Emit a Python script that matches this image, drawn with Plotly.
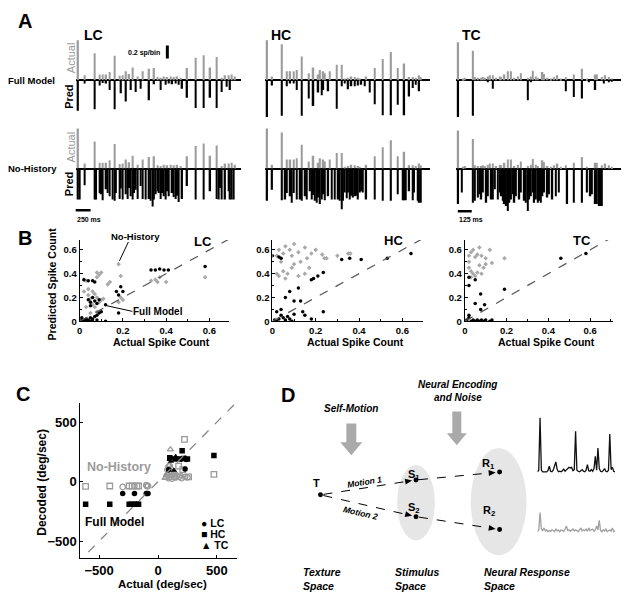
import math
import plotly.graph_objects as go

W, H = 626, 600
FONT = "Arial, Liberation Sans, sans-serif"
GRAY = "#9b9b9b"

# ---------------- Panel A data (sp/bin per time bin) ----------------
lc_act_bins = [0,4,10,13,15,17,19,22,25,27,29,31,33,36,39,43,46,48,50,52,54,56,58,60,62,66,71,76,80,84,87,89,91,93,95]
lc_act = [0.62,0.08,0.42,0.09,0.09,0.09,0.13,0.38,0.07,0.08,0.14,0.10,0.20,0.06,0.14,0.18,0.19,0.05,0.04,0.06,
          0.05,0.06,0.05,0.06,0.04,0.19,0.35,0.39,0.20,0.36,0.04,0.08,0.08,0.09,0.06]
lc_full_bins = [0,4,10,13,15,17,19,22,26,29,32,35,38,43,46,50,53,55,57,59,61,63,66,71,76,80,84,87,90,92]
lc_full = [0.47,0.05,0.45,0.08,0.04,0.05,0.15,0.45,0.20,0.33,0.15,0.18,0.13,0.31,0.06,0.15,0.07,0.05,0.06,0.05,
           0.07,0.13,0.27,0.43,0.43,0.27,0.43,0.18,0.10,0.15]
lc_nh_bins = [0,1,4,10,11,13,14,15,17,18,19,21,22,23,25,26,27,29,30,31,32,33,34,35,36,38,39,41,43,44,
              45,46,47,48,49,50,51,52,53,54,55,57,58,59,60,61,63,66,71,76,80,84,85,86,87,89,91,92,93,94]
lc_nh = [0.48,0.48,0.26,0.48,0.48,0.38,0.40,0.49,0.32,0.38,0.43,0.48,0.50,0.38,0.47,0.31,0.48,0.40,0.47,0.30,
         0.43,0.48,0.38,0.33,0.47,0.27,0.47,0.48,0.47,0.50,0.59,0.48,0.40,0.35,0.38,0.47,0.38,0.43,0.48,0.35,
         0.43,0.38,0.44,0.47,0.42,0.52,0.47,0.27,0.48,0.48,0.35,0.47,0.48,0.30,0.48,0.48,0.35,0.48,0.48,0.48]

hc_act_bins = [0,3,9,12,14,16,18,21,25,28,31,32,34,35,38,42,45,47,49,51,53,55,56,60,65,70,75,79,83,86,88,90,92,93]
hc_act = [0.62,0.06,0.56,0.14,0.14,0.14,0.16,0.37,0.11,0.20,0.09,0.16,0.14,0.11,0.14,0.24,0.24,0.03,0.04,0.06,
          0.05,0.04,0.03,0.06,0.19,0.33,0.44,0.19,0.26,0.05,0.05,0.04,0.08,0.05]
hc_full_bins = [0,3,9,12,14,16,18,21,25,28,31,33,34,37,42,45,47,49,51,53,55,57,59,62,65,70,75,79,83,86,88,90,92]
hc_full = [0.59,0.08,0.55,0.09,0.05,0.05,0.15,0.55,0.28,0.40,0.19,0.23,0.15,0.17,0.44,0.09,0.05,0.14,0.09,0.09,
           0.08,0.07,0.09,0.19,0.37,0.54,0.54,0.38,0.54,0.25,0.12,0.07,0.17]
hc_nh_bins = [0,3,9,11,12,14,15,16,18,20,21,23,24,26,27,28,29,30,31,32,33,34,35,37,39,41,43,44,45,46,
              47,48,49,50,51,52,53,54,55,56,57,58,60,65,70,75,79,82,83,84,86,88,89,91,92,93]
hc_nh = [0.50,0.33,0.49,0.48,0.38,0.43,0.53,0.38,0.48,0.48,0.50,0.43,0.48,0.35,0.48,0.41,0.50,0.53,0.45,0.55,
         0.48,0.40,0.49,0.43,0.48,0.48,0.48,0.50,0.63,0.50,0.37,0.46,0.37,0.48,0.42,0.45,0.43,0.42,0.48,0.37,
         0.35,0.37,0.48,0.48,0.50,0.50,0.40,0.49,0.49,0.49,0.35,0.49,0.37,0.50,0.53,0.53]

tc_act_bins = [0,3,4,9,10,12,14,15,16,18,19,21,23,25,26,28,30,32,34,36,38,42,44,45,47,48,51,52,54,56,
               58,60,62,65,70,75,78,83,84,87,89,91,93]
tc_act = [0.59,0.03,0.04,0.46,0.05,0.04,0.04,0.05,0.04,0.06,0.08,0.08,0.04,0.06,0.05,0.09,0.14,0.14,0.04,0.06,
          0.11,0.04,0.06,0.15,0.06,0.04,0.13,0.10,0.04,0.03,0.05,0.08,0.03,0.05,0.09,0.18,0.03,0.09,0.09,0.05,
          0.08,0.05,0.03]
tc_full_bins = [0,9,18,21,42,44,65,70,75,79,83,88,91,93]
tc_full = [0.58,0.55,0.03,0.13,0.31,0.03,0.17,0.26,0.28,0.03,0.15,0.05,0.03,0.02]
tc_nh_bins = [0,2,9,10,12,13,14,15,17,18,20,21,22,24,25,26,27,28,29,30,31,32,33,34,35,37,38,40,41,42,
              43,44,45,46,47,48,49,50,51,52,54,55,57,59,61,66,70,75,78,80,81,83,84,85,86,87]
tc_nh = [0.55,0.37,0.53,0.50,0.45,0.40,0.48,0.37,0.53,0.43,0.48,0.48,0.32,0.48,0.37,0.43,0.50,0.55,0.58,0.66,
         0.53,0.48,0.40,0.53,0.43,0.48,0.37,0.50,0.53,0.66,0.48,0.43,0.37,0.53,0.48,0.53,0.50,0.53,0.43,0.37,
         0.45,0.40,0.48,0.43,0.37,0.55,0.53,0.53,0.37,0.43,0.40,0.55,0.55,0.58,0.58,0.58]

# ---------------- Panel B data (actual vs predicted spike count) ----------------
b_lc_full_x = [0.01,0.02,0.03,0.04,0.05,0.06,0.07,0.08,0.09,0.10,0.03,0.05,0.12,0.02,0.04,0.06,0.07,
               0.04,0.05,0.06,0.07,0.05,0.08,0.09,0.18,0.18,0.20,0.19,0.17,0.33,0.35,0.37,0.39,0.41,
               0.58,0.12,0.01,0.02,0.06,0.08]
b_lc_full_y = [0.01,0.01,0.02,0.01,0.03,0.02,0.04,0.05,0.07,0.08,0.00,0.00,0.00,0.35,0.34,0.34,0.33,
               0.18,0.16,0.20,0.17,0.13,0.15,0.18,0.07,0.22,0.25,0.29,0.25,0.43,0.43,0.44,0.43,0.43,
               0.46,0.14,0.03,0.00,0.00,0.01]
b_lc_nh_x = [0.18,0.19,0.08,0.09,0.10,0.08,0.13,0.14,0.02,0.03,0.04,0.06,0.07,0.05,0.08,0.09,0.06,0.03,0.10,
             0.18,0.20,0.19,0.33,0.35,0.37,0.36,0.40,0.58,0.05,0.08,0.02,0.04,0.07,0.11]
b_lc_nh_y = [0.48,0.38,0.41,0.39,0.41,0.37,0.31,0.33,0.35,0.34,0.22,0.25,0.23,0.19,0.20,0.16,0.14,0.12,0.18,
             0.16,0.18,0.20,0.34,0.35,0.37,0.33,0.33,0.37,0.07,0.08,0.25,0.27,0.12,0.19]
b_hc_full_x = [0.00,0.03,0.04,0.18,0.19,0.21,0.235,0.235,0.32,0.357,0.41,0.53,0.64,
               0.01,0.02,0.03,0.04,0.05,0.06,0.07,0.08,0.09,0.10,0.02,0.04,0.06,
               0.06,0.08,0.12,0.10,0.13,0.15,0.18,0.14]
b_hc_full_y = [0.55,0.54,0.53,0.35,0.36,0.38,0.41,0.08,0.52,0.53,0.52,0.53,0.57,
               0.01,0.00,0.02,0.05,0.03,0.01,0.04,0.02,0.00,0.06,0.08,0.10,0.00,
               0.20,0.25,0.28,0.17,0.17,0.05,0.02,0.08]
b_hc_nh_x = [0.02,0.03,0.05,0.06,0.08,0.10,0.12,0.15,0.20,0.23,0.30,0.35,0.24,0.04,0.09,0.10,0.13,
             0.02,0.03,0.05,0.06,0.07,0.09,0.12,0.15,0.17,0.16,0.18,0.25,0.36]
b_hc_nh_y = [0.55,0.60,0.57,0.63,0.60,0.65,0.58,0.62,0.60,0.56,0.55,0.57,0.53,0.50,0.55,0.48,0.50,
             0.40,0.38,0.42,0.36,0.40,0.45,0.38,0.40,0.45,0.53,0.57,0.53,0.57]
b_tc_full_x = [0.02,0.02,0.05,0.076,0.05,0.095,0.076,0.19,0.46,0.58,0.01,0.02,0.03,0.04,0.05,0.06,0.07,
               0.08,0.09,0.10,0.12,0.13,0.02]
b_tc_full_y = [0.37,0.30,0.35,0.23,0.15,0.14,0.10,0.27,0.53,0.57,0.01,0.03,0.00,0.01,0.00,0.01,0.00,
               0.01,0.00,0.01,0.00,0.01,0.05]
b_tc_nh_x = [0.02,0.03,0.05,0.06,0.08,0.10,0.04,0.07,0.12,0.19,0.13,0.02,0.03,0.04,0.05,0.06,0.08,0.03,
             0.02,0.07,0.09,0.10]
b_tc_nh_y = [0.55,0.58,0.54,0.56,0.55,0.53,0.60,0.62,0.60,0.53,0.49,0.45,0.42,0.40,0.38,0.41,0.40,0.37,
             0.50,0.47,0.45,0.48]
b_ticks = [0, 0.2, 0.4, 0.6]
b_tick_labels = ["0", "0.2", "0.4", "0.6"]

# ---------------- Panel C data (deg/sec) ----------------
c_full_lc_x = [-300,-200,-100,-85,-95,230,90,200,240]
c_full_lc_y = [-100,-100,-100,-100,-100,105,100,190,185]
c_full_hc_x = [-615,-410,-245,-225,-200,-180,-165,205,150,180,220,250,475,100]
c_full_hc_y = [-190,-190,-190,-190,-190,-190,-190,260,190,190,195,190,220,200]
c_full_tc_x = [100,120,110,135,230,150]
c_full_tc_y = [185,195,170,95,200,210]
c_nh_lc_x = [-300,-200,-95,-85,-100,100,80,110,70,90,120,150,180,200,230,250,130,160]
c_nh_lc_y = [-45,-37,-37,-37,-30,130,100,80,40,30,25,35,40,30,40,35,60,50]
c_nh_hc_x = [-615,-410,-245,-220,-180,-165,225,175,475,210,100,260,140]
c_nh_hc_y = [-40,-37,-37,-37,-37,-37,355,130,60,100,60,40,40]
c_nh_tc_x = [105,90,115,80,140,100,200,60]
c_nh_tc_y = [270,140,110,70,80,30,50,30]
c_ticks = [-500, 0, 500]
c_legend = ["LC", "HC", "TC"]

# ---------------- Panel D example responses ----------------
d_resp1 = [0.02,0.05,1.0,0.05,0.02,0.02,0.03,0.02,0.04,0.12,0.03,0.02,0.05,0.12,0.2,0.06,0.02,0.03,0.02,0.04,
           0.07,0.03,0.05,0.08,0.1,0.09,0.1,0.04,0.06,0.75,0.05,0.03,0.02,0.04,0.06,0.03,0.02,0.05,0.15,0.04,
           0.03,0.06,0.03,0.08,0.3,0.05,0.45,0.08,0.03,0.02,0.04,0.08,0.03,0.02,0.05,0.7,0.06,0.1,0.03,0.02]
d_resp2 = [0.05,0.1,0.55,0.12,0.08,0.15,0.07,0.1,0.05,0.08,0.06,0.1,0.08,0.05,0.12,0.07,0.09,0.05,0.1,0.08,
           0.06,0.12,0.2,0.08,0.1,0.06,0.09,0.12,0.07,0.1,0.08,0.05,0.1,0.15,0.07,0.1,0.08,0.12,0.06,0.15,
           0.08,0.1,0.12,0.06,0.1,0.2,0.1,0.35,0.08,0.05,0.1,0.07,0.12,0.05,0.08,0.1,0.06,0.15,0.05,0.08]

# ---------------- helpers ----------------
def xd(a, b):
    return [a / W, b / W]

def yd(top, bot):
    return [1 - bot / H, 1 - top / H]

def P(x, y):
    return x / W, 1 - y / H

layout = dict(width=W, height=H, margin=dict(l=0, r=0, t=0, b=0, pad=0), paper_bgcolor="white",
              plot_bgcolor="white", showlegend=False, barmode="overlay",
              font=dict(family=FONT, color="black"))
shapes, annotations = [], []

def names(n):
    return ("x" if n == 1 else f"x{n}"), ("y" if n == 1 else f"y{n}")

def set_axes(n, xdom, ydom, xr, yr, xopts=None, yopts=None):
    xa, ya = names(n)
    base = dict(showgrid=False, zeroline=False, showticklabels=False, ticks="", showline=False, fixedrange=True)
    layout["xaxis" if n == 1 else f"xaxis{n}"] = dict(base, domain=xdom, range=xr, anchor=ya, **(xopts or {}))
    layout["yaxis" if n == 1 else f"yaxis{n}"] = dict(base, domain=ydom, range=yr, anchor=xa, **(yopts or {}))

def ann(x, y, text, size, color="black", angle=0, xanchor="center", yanchor="middle", align="center"):
    xp, yp = P(x, y)
    annotations.append(dict(x=xp, y=yp, xref="paper", yref="paper", text=text, showarrow=False,
                            font=dict(size=size, color=color, family=FONT), textangle=angle,
                            xanchor=xanchor, yanchor=yanchor, align=align, borderpad=0))

def pline(x0, y0, x1, y1, color="black", width=1, dash=None):
    shapes.append(dict(type="line", xref="paper", yref="paper", x0=x0 / W, y0=1 - y0 / H, x1=x1 / W,
                       y1=1 - y1 / H, line=dict(color=color, width=width, dash=dash)))

def ppath(pts, color):
    path = "M " + " L ".join(f"{x / W:.5f},{1 - y / H:.5f}" for x, y in pts) + " Z"
    shapes.append(dict(type="path", xref="paper", yref="paper", path=path, fillcolor=color,
                       line=dict(width=0)))

fig = go.Figure()

# ---------------- Panel A ----------------
cols = [((73, 239), lc_act_bins, lc_act, lc_full_bins, lc_full, lc_nh_bins, lc_nh),
        ((263, 429), hc_act_bins, hc_act, hc_full_bins, hc_full, hc_nh_bins, hc_nh),
        ((455, 621), tc_act_bins, tc_act, tc_full_bins, tc_full, tc_nh_bins, tc_nh)]
rows = [((36, 118), [-0.569, 0.692]), ((126, 214), [-0.677, 0.677])]
n = 1
for (xpx, ab, av, fb, fv, hb, hv) in cols:
    for r, (ypx, yr) in enumerate(rows):
        set_axes(n, xd(*xpx), yd(*ypx), [-1.5, 98.5], yr,
                 yopts=dict(zeroline=True, zerolinecolor="black", zerolinewidth=1.5))
        xa, ya = names(n)
        fig.add_trace(go.Bar(x=ab, y=av, width=0.9, marker=dict(color=GRAY, line=dict(width=0)),
                             xaxis=xa, yaxis=ya))
        pb, pv = (fb, fv) if r == 0 else (hb, hv)
        fig.add_trace(go.Bar(x=pb, y=[-v for v in pv], width=0.9, marker=dict(color="black", line=dict(width=0)),
                             xaxis=xa, yaxis=ya))
        if n == 1:
            shapes.append(dict(type="line", xref="x", yref="y", x0=54, x1=54, y0=0.34, y1=0.54,
                               line=dict(color="black", width=3)))
        n += 1

ann(22, 21, "<b>A</b>", 20)
ann(91, 35, "<b>LC</b>", 14)
ann(279, 35, "<b>HC</b>", 14)
ann(471, 35, "<b>TC</b>", 14)
ann(142, 53, "<b>0.2 sp/bin</b>", 7)
ann(29, 81, "<b>Full Model</b>", 9.5)
ann(30, 170, "<b>No-History</b>", 9.5)
for yc in (58, 148):
    ann(68, yc, "Actual", 11, color=GRAY, angle=-90)
for yc in (98, 186):
    ann(67, yc, "<b>Pred</b>", 11, angle=-90)
pline(73, 212, 88, 212, width=2.5)
ann(73, 221, "<b>250 ms</b>", 7, xanchor="left")
pline(457, 213, 471, 213, width=2.5)
ann(457, 221, "<b>125 ms</b>", 7, xanchor="left")

# ---------------- Panel B ----------------
bax = dict(showline=True, linecolor="black", linewidth=1, ticks="inside", ticklen=3, tickcolor="black",
           showticklabels=True, tickvals=b_ticks, ticktext=b_tick_labels,
           minor=dict(dtick=0.1, tick0=0, ticks="inside", ticklen=2, tickcolor="black"),
           tickfont=dict(size=9.5, family=FONT, weight="bold"))
bpanels = [((77, 227), [0, 0.69], b_lc_full_x, b_lc_full_y, b_lc_nh_x, b_lc_nh_y),
           ((270.7, 421.7), [0, 0.694], b_hc_full_x, b_hc_full_y, b_hc_nh_x, b_hc_nh_y),
           ((464, 613), [0, 0.71], b_tc_full_x, b_tc_full_y, b_tc_nh_x, b_tc_nh_y)]
for (xpx, xr, fx, fy, hx, hy) in bpanels:
    set_axes(n, xd(*xpx), yd(242, 324), xr, [0, 0.683], xopts=dict(bax), yopts=dict(bax))
    xa, ya = names(n)
    shapes.append(dict(type="line", xref=xa, yref=ya, x0=0, y0=0, x1=0.75, y1=0.75,
                       line=dict(color="#555555", width=1.2, dash="dash")))
    fig.add_trace(go.Scatter(x=hx, y=hy, mode="markers", xaxis=xa, yaxis=ya,
                             marker=dict(symbol="diamond", size=3.5, color="#a8a8a8", line=dict(width=0))))
    fig.add_trace(go.Scatter(x=fx, y=fy, mode="markers", xaxis=xa, yaxis=ya,
                             marker=dict(symbol="circle", size=3.5, color="black", line=dict(width=0))))
    n += 1

ann(22, 240, "<b>B</b>", 20)
ann(133, 238, "<b>No-History</b>", 9.5)
pline(126, 244, 117, 263, width=1)
ann(201, 244, "<b>LC</b>", 13)
ann(392, 243, "<b>HC</b>", 13)
ann(582, 243, "<b>TC</b>", 13)
ann(156, 314, "<b>Full Model</b>", 10)
pline(103, 308, 130, 314, width=1)
ann(159, 345, "<b>Actual Spike Count</b>", 10.5)
ann(354, 345, "<b>Actual Spike Count</b>", 10.5)
ann(546, 345, "<b>Actual Spike Count</b>", 10.5)
ann(49, 286, "<b>Predicted Spike Count</b>", 10.5, angle=-90)

# ---------------- Panel C ----------------
cax = dict(showline=True, linecolor="black", linewidth=1, ticks="inside", ticklen=3, tickcolor="black",
           showticklabels=True, tickvals=c_ticks, tickfont=dict(size=13, family=FONT, weight="bold"))
set_axes(n, xd(77.7, 235), yd(406.7, 562.7), [-660, 670], [-642, 658], xopts=dict(cax), yopts=dict(cax))
xa, ya = names(n)
shapes.append(dict(type="line", xref=xa, yref=ya, x0=-700, y0=-700, x1=700, y1=700,
                   line=dict(color="#888888", width=1.3, dash="dash")))
for (xs, ys, sym) in [(c_nh_lc_x, c_nh_lc_y, "circle-open"), (c_nh_hc_x, c_nh_hc_y, "square-open"),
                      (c_nh_tc_x, c_nh_tc_y, "triangle-up-open")]:
    fig.add_trace(go.Scatter(x=xs, y=ys, mode="markers", xaxis=xa, yaxis=ya,
                             marker=dict(symbol=sym, size=5.5, color=GRAY, line=dict(width=1.3, color=GRAY))))
for (xs, ys, sym) in [(c_full_lc_x, c_full_lc_y, "circle"), (c_full_hc_x, c_full_hc_y, "square"),
                      (c_full_tc_x, c_full_tc_y, "triangle-up")]:
    fig.add_trace(go.Scatter(x=xs, y=ys, mode="markers", xaxis=xa, yaxis=ya,
                             marker=dict(symbol=sym, size=5.5, color="black", line=dict(width=0))))
n += 1

ann(20, 397, "<b>C</b>", 20)
ann(117, 471, "<b>No-History</b>", 12.5, color=GRAY)
ann(112, 526, "<b>Full Model</b>", 12)
for lab, sym, yc in zip(c_legend, ["●", "■", "▲"], (527, 538.5, 550)):
    ann(198, yc, f"<b>{sym} {lab}</b>", 10.5, xanchor="left")
ann(39, 486, "<b>Decoded (deg/sec)</b>", 12, angle=-90)
ann(160, 589, "<b>Actual (deg/sec)</b>", 11.5)

# ---------------- Panel D ----------------
ann(286, 398, "<b>D</b>", 20)
for (cx, cy, rx, ry) in [(415, 507, 19, 38), (498, 506, 28, 54)]:
    shapes.append(dict(type="circle", xref="paper", yref="paper", layer="below",
                       x0=(cx - rx) / W, x1=(cx + rx) / W, y0=1 - (cy + ry) / H, y1=1 - (cy - ry) / H,
                       fillcolor="#e6e6e6", line=dict(width=0)))

def down_arrow(cx, top, sh, head_y, hh, tip):
    ppath([(cx - sh, top), (cx + sh, top), (cx + sh, head_y), (cx + hh, head_y), (cx, tip),
           (cx - hh, head_y), (cx - sh, head_y)], "#aaaaaa")

down_arrow(350, 427, 5, 446, 11, 459)
down_arrow(456, 415, 4.5, 437, 10, 449)

nodes = {"T": (319, 499), "S1": (415, 484), "S2": (415, 521), "R1": (499, 476), "R2": (499, 534)}

def dashed_arrow(a, b):
    (x0, y0), (x1, y1) = nodes[a], nodes[b]
    L = math.hypot(x1 - x0, y1 - y0)
    ux, uy = (x1 - x0) / L, (y1 - y0) / L
    vx, vy = -uy, ux
    hx, hy = x1 - ux * 4, y1 - uy * 4
    bx, by = hx - ux * 7, hy - uy * 7
    pline(x0 + ux * 3, y0 + uy * 3, bx, by, width=1, dash="dash")
    ppath([(hx, hy), (bx + vx * 3, by + vy * 3), (bx - vx * 3, by - vy * 3)], "black")

for a, b in [("T", "S1"), ("S1", "R1"), ("T", "S2"), ("S2", "R2")]:
    dashed_arrow(a, b)
for (x, y) in nodes.values():
    shapes.append(dict(type="circle", xref="paper", yref="paper", x0=(x - 2.5) / W, x1=(x + 2.5) / W,
                       y0=1 - (y + 2.5) / H, y1=1 - (y - 2.5) / H, fillcolor="black", line=dict(width=0)))

ann(315, 487, "<b>T</b>", 11)
ann(413, 479, "<b>S<sub>1</sub></b>", 11)
ann(413, 512, "<b>S<sub>2</sub></b>", 11)
ann(488, 468, "<b>R<sub>1</sub></b>", 11)
ann(488, 515, "<b>R<sub>2</sub></b>", 11)
ann(363, 486, "<b><i>Motion 1</i></b>", 8.5, angle=-9)
ann(359, 517, "<b><i>Motion 2</i></b>", 8.5, angle=13)
ann(350, 412, "<b><i>Self-Motion</i></b>", 10)
ann(457, 388, "<b><i>Neural Encoding</i></b>", 10)
ann(457, 401, "<b><i>and Noise</i></b>", 10)
ann(300, 584, "<b><i>Texture<br>Space</i></b>", 10.5, xanchor="left", align="left")
ann(393, 584, "<b><i>Stimulus<br>Space</i></b>", 10.5, xanchor="left", align="left")
ann(482, 584, "<b><i>Neural Response<br>Space</i></b>", 10.5, xanchor="left", align="left")

set_axes(n, xd(537, 615), yd(421, 478), [0, len(d_resp1) - 1], [-0.02, 1.0])
xa, ya = names(n)
fig.add_trace(go.Scatter(x=list(range(len(d_resp1))), y=d_resp1, mode="lines", xaxis=xa, yaxis=ya,
                         line=dict(color="#111111", width=1.3)))
n += 1
set_axes(n, xd(537, 615), yd(512, 540), [0, len(d_resp2) - 1], [-0.05, 0.68])
xa, ya = names(n)
fig.add_trace(go.Scatter(x=list(range(len(d_resp2))), y=d_resp2, mode="lines", xaxis=xa, yaxis=ya,
                         line=dict(color="#a0a0a0", width=1.3)))

layout["shapes"] = shapes
layout["annotations"] = annotations
fig.update_layout(**layout)
fig.write_html("out.html", config={"displayModeBar": False},
               post_script="document.body.style.margin='0';document.body.style.overflow='hidden';")
